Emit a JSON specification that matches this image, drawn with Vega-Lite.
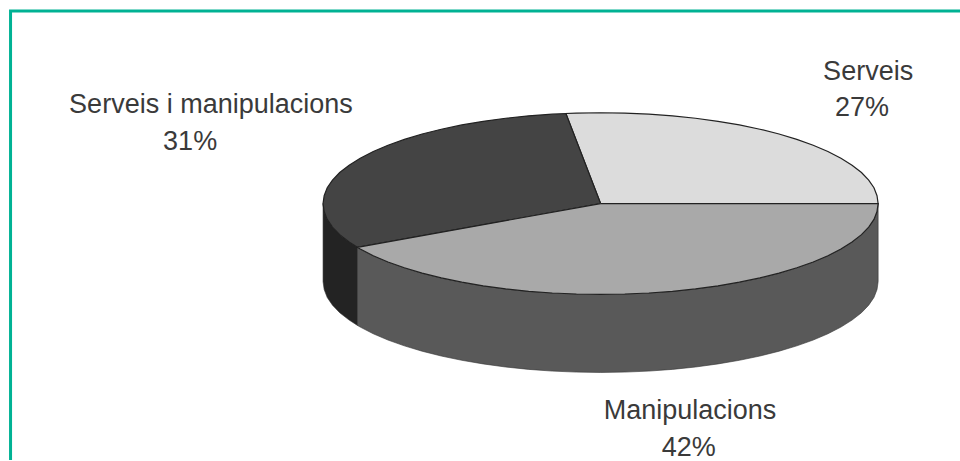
{"$schema":"https://vega.github.io/schema/vega-lite/v6.json","width":960,"height":461,"padding":0,"autosize":{"type":"fit","contains":"padding"},"background":"white","view":{"stroke":null},
"config":{"view":{"stroke":null}},
"datasets":{
"frame":[{"i":0,"x":-212.6,"y":-282.4},{"i":1,"x":-212.6,"y":212.1},{"i":2,"x":129.5,"y":212.1}],
"sides":[
{"part":"Serveis i manipulacions (lateral)","x":-100,"y":0,"y2":-86},{"part":"Serveis i manipulacions (lateral)","x":-99.6,"y":-8.7,"y2":-94.7},{"part":"Serveis i manipulacions (lateral)","x":-98.5,"y":-17.4,"y2":-103.4},{"part":"Serveis i manipulacions (lateral)","x":-96.6,"y":-25.9,"y2":-111.9},{"part":"Serveis i manipulacions (lateral)","x":-94,"y":-34.2,"y2":-120.2},{"part":"Serveis i manipulacions (lateral)","x":-90.6,"y":-42.3,"y2":-128.3},{"part":"Serveis i manipulacions (lateral)","x":-87.6,"y":-48.2,"y2":-134.2},
{"part":"Manipulacions (lateral)","x":-87.6,"y":-48.2,"y2":-134.2},{"part":"Manipulacions (lateral)","x":-86.6,"y":-50,"y2":-136},{"part":"Manipulacions (lateral)","x":-81.9,"y":-57.4,"y2":-143.4},{"part":"Manipulacions (lateral)","x":-76.6,"y":-64.3,"y2":-150.3},{"part":"Manipulacions (lateral)","x":-70.7,"y":-70.7,"y2":-156.7},{"part":"Manipulacions (lateral)","x":-64.3,"y":-76.6,"y2":-162.6},{"part":"Manipulacions (lateral)","x":-57.4,"y":-81.9,"y2":-167.9},{"part":"Manipulacions (lateral)","x":-50,"y":-86.6,"y2":-172.6},{"part":"Manipulacions (lateral)","x":-42.3,"y":-90.6,"y2":-176.6},{"part":"Manipulacions (lateral)","x":-34.2,"y":-94,"y2":-180},{"part":"Manipulacions (lateral)","x":-25.9,"y":-96.6,"y2":-182.6},{"part":"Manipulacions (lateral)","x":-17.4,"y":-98.5,"y2":-184.5},{"part":"Manipulacions (lateral)","x":-8.7,"y":-99.6,"y2":-185.6},{"part":"Manipulacions (lateral)","x":0,"y":-100,"y2":-186},{"part":"Manipulacions (lateral)","x":8.7,"y":-99.6,"y2":-185.6},{"part":"Manipulacions (lateral)","x":17.4,"y":-98.5,"y2":-184.5},{"part":"Manipulacions (lateral)","x":25.9,"y":-96.6,"y2":-182.6},{"part":"Manipulacions (lateral)","x":34.2,"y":-94,"y2":-180},{"part":"Manipulacions (lateral)","x":42.3,"y":-90.6,"y2":-176.6},{"part":"Manipulacions (lateral)","x":50,"y":-86.6,"y2":-172.6},{"part":"Manipulacions (lateral)","x":57.4,"y":-81.9,"y2":-167.9},{"part":"Manipulacions (lateral)","x":64.3,"y":-76.6,"y2":-162.6},{"part":"Manipulacions (lateral)","x":70.7,"y":-70.7,"y2":-156.7},{"part":"Manipulacions (lateral)","x":76.6,"y":-64.3,"y2":-150.3},{"part":"Manipulacions (lateral)","x":81.9,"y":-57.4,"y2":-143.4},{"part":"Manipulacions (lateral)","x":86.6,"y":-50,"y2":-136},{"part":"Manipulacions (lateral)","x":90.6,"y":-42.3,"y2":-128.3},{"part":"Manipulacions (lateral)","x":94,"y":-34.2,"y2":-120.2},{"part":"Manipulacions (lateral)","x":96.6,"y":-25.9,"y2":-111.9},{"part":"Manipulacions (lateral)","x":98.5,"y":-17.4,"y2":-103.4},{"part":"Manipulacions (lateral)","x":99.6,"y":-8.7,"y2":-94.7},{"part":"Manipulacions (lateral)","x":100,"y":0,"y2":-86}
],
"tops":[
{"part":"Serveis","i":0,"x":0,"y":0},{"part":"Serveis","i":1,"x":100,"y":0},{"part":"Serveis","i":2,"x":99.6,"y":8.7},{"part":"Serveis","i":3,"x":98.5,"y":17.4},{"part":"Serveis","i":4,"x":96.6,"y":25.9},{"part":"Serveis","i":5,"x":94,"y":34.2},{"part":"Serveis","i":6,"x":90.6,"y":42.3},{"part":"Serveis","i":7,"x":86.6,"y":50},{"part":"Serveis","i":8,"x":81.9,"y":57.4},{"part":"Serveis","i":9,"x":76.6,"y":64.3},{"part":"Serveis","i":10,"x":70.7,"y":70.7},{"part":"Serveis","i":11,"x":64.3,"y":76.6},{"part":"Serveis","i":12,"x":57.4,"y":81.9},{"part":"Serveis","i":13,"x":50,"y":86.6},{"part":"Serveis","i":14,"x":42.3,"y":90.6},{"part":"Serveis","i":15,"x":34.2,"y":94},{"part":"Serveis","i":16,"x":25.9,"y":96.6},{"part":"Serveis","i":17,"x":17.4,"y":98.5},{"part":"Serveis","i":18,"x":8.7,"y":99.6},{"part":"Serveis","i":19,"x":0,"y":100},{"part":"Serveis","i":20,"x":-8.7,"y":99.6},{"part":"Serveis","i":21,"x":-12.5,"y":99.2},{"part":"Serveis","i":22,"x":0,"y":0},
{"part":"Serveis i manipulacions","i":0,"x":0,"y":0},{"part":"Serveis i manipulacions","i":1,"x":-12.5,"y":99.2},{"part":"Serveis i manipulacions","i":2,"x":-17.4,"y":98.5},{"part":"Serveis i manipulacions","i":3,"x":-25.9,"y":96.6},{"part":"Serveis i manipulacions","i":4,"x":-34.2,"y":94},{"part":"Serveis i manipulacions","i":5,"x":-42.3,"y":90.6},{"part":"Serveis i manipulacions","i":6,"x":-50,"y":86.6},{"part":"Serveis i manipulacions","i":7,"x":-57.4,"y":81.9},{"part":"Serveis i manipulacions","i":8,"x":-64.3,"y":76.6},{"part":"Serveis i manipulacions","i":9,"x":-70.7,"y":70.7},{"part":"Serveis i manipulacions","i":10,"x":-76.6,"y":64.3},{"part":"Serveis i manipulacions","i":11,"x":-81.9,"y":57.4},{"part":"Serveis i manipulacions","i":12,"x":-86.6,"y":50},{"part":"Serveis i manipulacions","i":13,"x":-90.6,"y":42.3},{"part":"Serveis i manipulacions","i":14,"x":-94,"y":34.2},{"part":"Serveis i manipulacions","i":15,"x":-96.6,"y":25.9},{"part":"Serveis i manipulacions","i":16,"x":-98.5,"y":17.4},{"part":"Serveis i manipulacions","i":17,"x":-99.6,"y":8.7},{"part":"Serveis i manipulacions","i":18,"x":-100,"y":0},{"part":"Serveis i manipulacions","i":19,"x":-99.6,"y":-8.7},{"part":"Serveis i manipulacions","i":20,"x":-98.5,"y":-17.4},{"part":"Serveis i manipulacions","i":21,"x":-96.6,"y":-25.9},{"part":"Serveis i manipulacions","i":22,"x":-94,"y":-34.2},{"part":"Serveis i manipulacions","i":23,"x":-90.6,"y":-42.3},{"part":"Serveis i manipulacions","i":24,"x":-87.6,"y":-48.2},{"part":"Serveis i manipulacions","i":25,"x":0,"y":0},
{"part":"Manipulacions","i":0,"x":0,"y":0},{"part":"Manipulacions","i":1,"x":-87.6,"y":-48.2},{"part":"Manipulacions","i":2,"x":-86.6,"y":-50},{"part":"Manipulacions","i":3,"x":-81.9,"y":-57.4},{"part":"Manipulacions","i":4,"x":-76.6,"y":-64.3},{"part":"Manipulacions","i":5,"x":-70.7,"y":-70.7},{"part":"Manipulacions","i":6,"x":-64.3,"y":-76.6},{"part":"Manipulacions","i":7,"x":-57.4,"y":-81.9},{"part":"Manipulacions","i":8,"x":-50,"y":-86.6},{"part":"Manipulacions","i":9,"x":-42.3,"y":-90.6},{"part":"Manipulacions","i":10,"x":-34.2,"y":-94},{"part":"Manipulacions","i":11,"x":-25.9,"y":-96.6},{"part":"Manipulacions","i":12,"x":-17.4,"y":-98.5},{"part":"Manipulacions","i":13,"x":-8.7,"y":-99.6},{"part":"Manipulacions","i":14,"x":0,"y":-100},{"part":"Manipulacions","i":15,"x":8.7,"y":-99.6},{"part":"Manipulacions","i":16,"x":17.4,"y":-98.5},{"part":"Manipulacions","i":17,"x":25.9,"y":-96.6},{"part":"Manipulacions","i":18,"x":34.2,"y":-94},{"part":"Manipulacions","i":19,"x":42.3,"y":-90.6},{"part":"Manipulacions","i":20,"x":50,"y":-86.6},{"part":"Manipulacions","i":21,"x":57.4,"y":-81.9},{"part":"Manipulacions","i":22,"x":64.3,"y":-76.6},{"part":"Manipulacions","i":23,"x":70.7,"y":-70.7},{"part":"Manipulacions","i":24,"x":76.6,"y":-64.3},{"part":"Manipulacions","i":25,"x":81.9,"y":-57.4},{"part":"Manipulacions","i":26,"x":86.6,"y":-50},{"part":"Manipulacions","i":27,"x":90.6,"y":-42.3},{"part":"Manipulacions","i":28,"x":94,"y":-34.2},{"part":"Manipulacions","i":29,"x":96.6,"y":-25.9},{"part":"Manipulacions","i":30,"x":98.5,"y":-17.4},{"part":"Manipulacions","i":31,"x":99.6,"y":-8.7},{"part":"Manipulacions","i":32,"x":100,"y":0},{"part":"Manipulacions","i":33,"x":0,"y":0}
],
"labels":[
{"text":"Serveis","x":96.4,"y":145},{"text":"27%","x":94.2,"y":105.5},
{"text":"Serveis i manipulacions","x":-140.4,"y":108.8},{"text":"31%","x":-147.9,"y":68.1},
{"text":"Manipulacions","x":32.2,"y":-228.6},{"text":"42%","x":31.8,"y":-269.2}
]},
"encoding":{
"x":{"field":"x","type":"quantitative","axis":null,"scale":{"domain":[-216.4,129.5],"nice":false,"zero":false}},
"y":{"field":"y","type":"quantitative","axis":null,"scale":{"domain":[-282.4,224.2],"nice":false,"zero":false}}
},
"layer":[
{"data":{"name":"frame"},"mark":{"type":"line","stroke":"#00b294","strokeWidth":3,"clip":true},"encoding":{"order":{"field":"i","type":"quantitative"}}},
{"data":{"name":"sides"},"mark":{"type":"area","stroke":"#333333","strokeWidth":0.6},"encoding":{"y2":{"field":"y2"},"fill":{"field":"part","type":"nominal","legend":null,"scale":{"domain":["Serveis","Serveis i manipulacions","Manipulacions","Serveis i manipulacions (lateral)","Manipulacions (lateral)"],"range":["#dcdcdc","#444444","#a9a9a9","#232323","#595959"]}}}},
{"data":{"name":"tops"},"mark":{"type":"line","stroke":"#222222","strokeWidth":1.2},"encoding":{"order":{"field":"i","type":"quantitative"},"fill":{"field":"part","type":"nominal","legend":null}}},
{"data":{"name":"labels"},"mark":{"type":"text","font":"Liberation Sans","fontSize":27,"letterSpacing":0,"color":"#3a3a3a","align":"center","baseline":"middle"},"encoding":{"text":{"field":"text","type":"nominal"}}}
]}
